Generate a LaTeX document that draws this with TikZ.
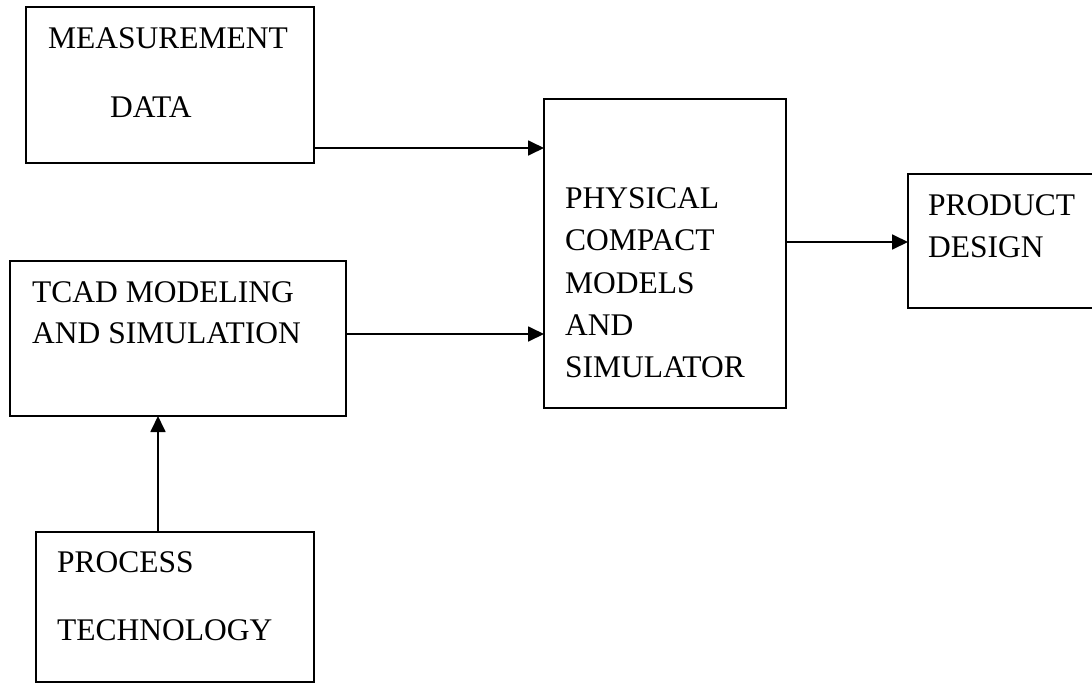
\documentclass[tikz,border=0pt]{standalone}
\usepackage{fontspec}
\setmainfont{Liberation Serif}
\usetikzlibrary{arrows.meta}
\begin{document}
\begin{tikzpicture}[x=1pt,y=-1pt,
  box/.style={draw, line width=1.8pt, inner sep=0pt, outer sep=0pt},
  lbl/.style={inner sep=0pt, anchor=base west, font=\fontsize{31.5}{36}\selectfont},
  conn/.style={line width=1.8pt, -{Triangle[length=16pt,width=15pt]}}]
\useasboundingbox (0,0) rectangle (1092,683);
\clip (0,0) rectangle (1092,683);
\node[box, minimum width=288pt, minimum height=156pt] (meas) at (170,85) {};
\node[box, minimum width=242pt, minimum height=309pt] (phys) at (665,253.5) {};
\node[box, minimum width=202pt, minimum height=134pt] (prod) at (1009,241) {};
\node[box, minimum width=336pt, minimum height=155pt] (tcad) at (178,338.5) {};
\node[box, minimum width=278pt, minimum height=150pt] (proc) at (175,607) {};
\node[lbl] (m1) at (48,48) {MEASUREMENT};
\node[lbl] (m2) at (110,117) {DATA};
\node[lbl] (p1) at (565,208) {PHYSICAL};
\node[lbl] (p2) at (565,250) {COMPACT};
\node[lbl] (p3) at (565,293) {MODELS};
\node[lbl] (p4) at (565,335) {AND};
\node[lbl] (p5) at (565,377) {SIMULATOR};
\node[lbl] (d1) at (928,215) {PRODUCT};
\node[lbl] (d2) at (928,257) {DESIGN};
\node[lbl] (t1) at (32,302) {TCAD MODELING};
\node[lbl] (t2) at (32,343) {AND SIMULATION};
\node[lbl] (r1) at (57,572) {PROCESS};
\node[lbl] (r2) at (57,640) {TECHNOLOGY};
\draw[conn] (meas.east |- 0,148) -- (phys.west |- 0,148);
\draw[conn] (tcad.east |- 0,334) -- (phys.west |- 0,334);
\draw[conn] (phys.east |- 0,242) -- (prod.west |- 0,242);
\draw[conn] (proc.north -| 158,0) -- (tcad.south -| 158,0);
\end{tikzpicture}
\end{document}
